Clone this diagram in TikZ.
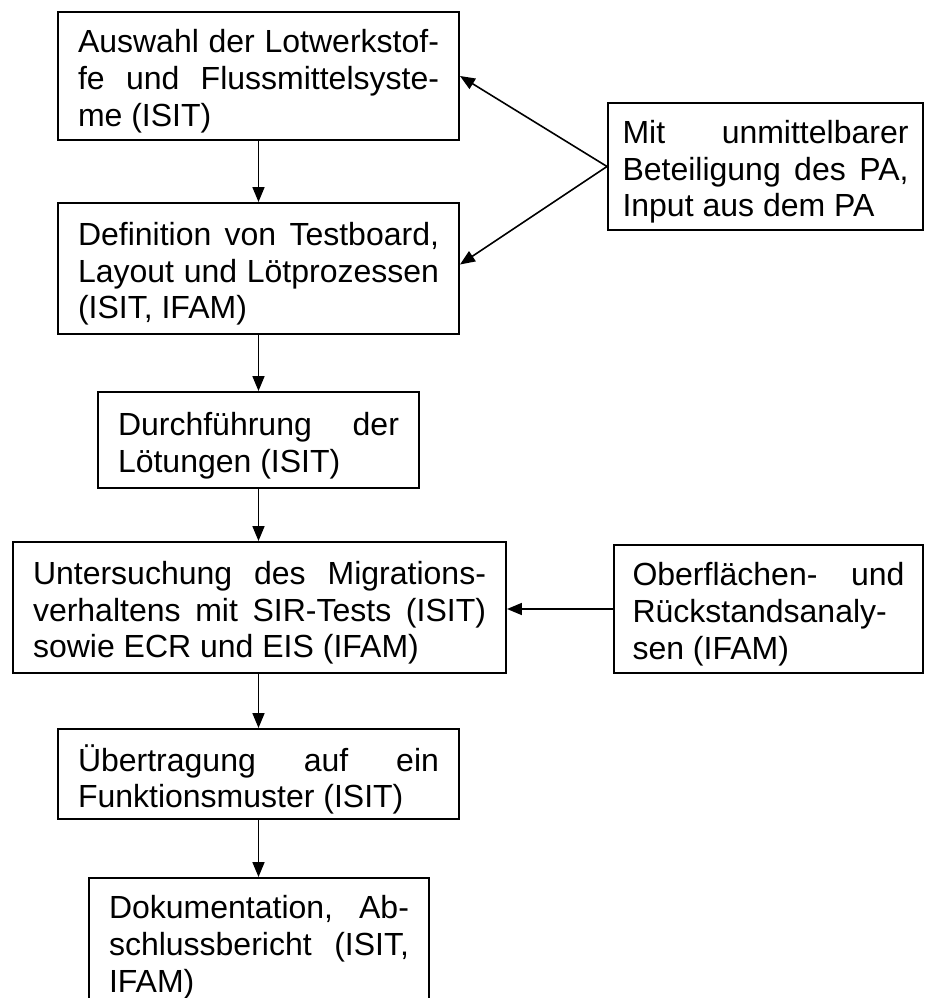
\documentclass[tikz,border=0pt]{standalone}
\usepackage{fontspec}
\setmainfont{Liberation Sans}
\usetikzlibrary{arrows.meta}
\hyphenpenalty=10000
\begin{document}
\begin{tikzpicture}[x=0.375pt, y=-0.375pt]
      \tikzset{
	  stage/.style={draw=black, line width=0.75pt, anchor=north west, inner xsep=7.5pt, inner ysep=0pt, align=justify, font={\fontsize{12pt}{13.8pt}\selectfont}, execute at begin node={\vadjust pre{\vskip4pt}}},
	  flow/.style={draw=black, line width=0.6pt, -{Triangle[length=5.6pt, width=4.5pt]}}
      }
      \useasboundingbox (0,0) rectangle (924,998);
      \clip (0,0) rectangle (924,998);

      \node [stage, text width=135.375pt, minimum height=48pt] (auswahl) at (57,11) {Auswahl der Lotwerkstof-\linebreak fe und Flussmittelsyste-\linebreak me (ISIT)};
      \node [stage, text width=135.375pt, minimum height=49.125pt] (definition) at (57,202) {Definition von Testboard,\linebreak Layout und Lötprozessen\linebreak (ISIT, IFAM)};
      \node [stage, text width=105.375pt, minimum height=36pt] (loetung) at (97,391) {Durchführung der\linebreak Lötungen (ISIT)};
      \node [stage, text width=169.875pt, minimum height=49.125pt] (migration) at (12,541) {Untersuchung des Migrations-\linebreak verhaltens mit SIR-Tests (ISIT)\linebreak sowie ECR und EIS (IFAM)};
      \node [stage, text width=135.375pt, minimum height=33.75pt] (uebertragung) at (57,728) {Übertragung auf ein\linebreak Funktionsmuster (ISIT)};
      \node [stage, text width=112.5pt, minimum height=48pt] (doku) at (88,877) {Dokumentation, Ab-\linebreak schlussbericht (ISIT,\linebreak IFAM)};

      % Kaesten rechts
      \node [stage, text width=107.25pt, inner xsep=5.44pt, minimum height=47.625pt] (pa) at (607,102) {Mit unmittelbarer\linebreak Beteiligung des PA,\linebreak Input aus dem PA};
      \node [stage, text width=102pt, inner xsep=6.94pt, minimum height=48pt] (analyse) at (613,544) {Oberflächen- und\linebreak Rückstandsanaly-\linebreak sen (IFAM)};

      \draw [flow] (auswahl) -- (definition);
      \draw [flow] (definition) -- (loetung);
      \draw [flow] (loetung.south) -- (loetung.south |- migration.north);
      \draw [flow] (migration.south -| loetung.south) -- (loetung.south |- uebertragung.north);
      \draw [flow] (uebertragung.south) -- (uebertragung.south |- doku.north);
      \draw [flow] (pa.west) -- (auswahl.east);
      \draw [flow] (pa.west) -- ([yshift=1.5pt]definition.east);
      \draw [flow] (analyse.west) -- (analyse.west -| migration.east);
    \end{tikzpicture}
\end{document}
